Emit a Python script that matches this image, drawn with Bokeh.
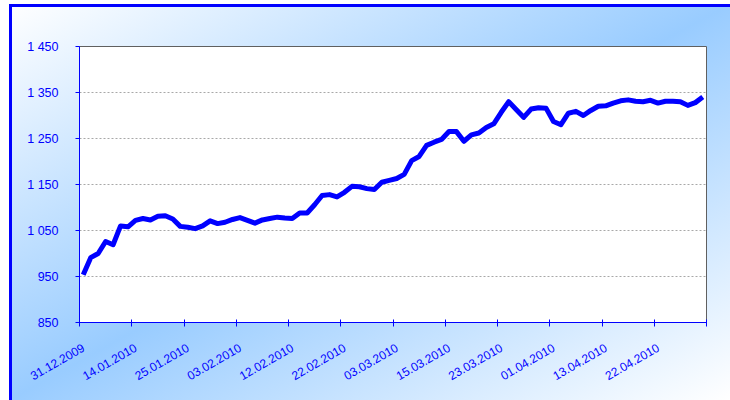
import math
from bokeh.plotting import figure
from bokeh.models import Range1d, FixedTicker
from bokeh.embed import file_html
from bokeh.resources import INLINE

# Index values per trading day (31.12.2009 ... end of April 2010)
values = [954, 991, 1000, 1026, 1019, 1060, 1058, 1072, 1076, 1073,
          1081, 1082, 1075, 1059, 1057, 1054, 1060, 1071, 1065, 1068,
          1074, 1078, 1072, 1066, 1073, 1076, 1079, 1077, 1076, 1088,
          1088, 1106, 1126, 1128, 1123, 1133, 1146, 1145, 1141, 1139,
          1155, 1159, 1163, 1172, 1202, 1211, 1235, 1242, 1248, 1265,
          1265, 1244, 1258, 1262, 1274, 1282, 1307, 1330, 1313, 1296,
          1314, 1317, 1316, 1287, 1280, 1305, 1309, 1300, 1311, 1320,
          1321, 1327, 1332, 1334, 1331, 1330, 1333, 1327, 1331, 1331,
          1330, 1322, 1328, 1340]

date_labels = ["31.12.2009", "14.01.2010", "25.01.2010", "03.02.2010",
               "12.02.2010", "22.02.2010", "03.03.2010", "15.03.2010",
               "23.03.2010", "01.04.2010", "13.04.2010", "22.04.2010"]
label_step = 7

y_ticks = [850, 950, 1050, 1150, 1250, 1350, 1450]

n = len(values)
idx = list(range(n))

p = figure(width=721, height=396, output_backend="svg", toolbar_location=None,
           x_range=Range1d(-0.5, n - 0.5), y_range=Range1d(850, 1450),
           min_border_left=70, min_border_top=42, min_border_right=24,
           min_border_bottom=78)

p.border_fill_color = None
p.background_fill_color = "white"
p.outline_line_color = "#606060"
p.outline_line_width = 1
p.styles = {
    "background-image": "linear-gradient(to bottom right, #ffffff 0%, #99ccff 50%, #ffffff 100%)",
    "box-shadow": "inset 3px 3px 0 0 #0000ff",
    "margin-top": "4px",
    "margin-left": "9px",
}

p.line(idx, values, line_width=5, line_color="#0000ff", line_join="round")

font = "Liberation Sans"

# x axis
xt = [label_step * k for k in range(len(date_labels))]
xminor = [label_step * k - 0.5 for k in range(len(date_labels) + 1)]
p.xaxis.ticker = FixedTicker(ticks=xt, minor_ticks=xminor)
p.xaxis.major_label_overrides = {t: lab for t, lab in zip(xt, date_labels)}
p.xaxis.major_label_orientation = math.pi / 6
p.xaxis.major_tick_out = 0
p.xaxis.major_tick_in = 0
p.xaxis.minor_tick_out = 4
p.xaxis.minor_tick_in = 3
p.xaxis.minor_tick_line_color = "#0000ff"
p.xaxis.axis_line_color = "#0000ff"
p.xaxis.major_label_text_color = "#0000ff"
p.xaxis.major_label_text_font = font
p.xaxis.major_label_text_font_size = "12px"
p.xaxis.major_label_standoff = 20

# y axis
p.yaxis.ticker = FixedTicker(ticks=y_ticks)
p.yaxis.major_label_overrides = {t: f"{t:,}".replace(",", " ") for t in y_ticks}
p.yaxis.minor_tick_line_color = None
p.yaxis.major_tick_out = 4
p.yaxis.major_tick_in = 0
p.yaxis.major_tick_line_color = "#0000ff"
p.yaxis.axis_line_color = "#0000ff"
p.yaxis.major_label_text_color = "#0000ff"
p.yaxis.major_label_text_font = font
p.yaxis.major_label_text_font_size = "12.5px"
p.yaxis.major_label_standoff = 17

p.xgrid.grid_line_color = None
p.ygrid.grid_line_color = "#a8a8a8"
p.ygrid.grid_line_dash = "2 2"
p.ygrid.grid_line_width = 1

open("out.html", "w").write(file_html(p, INLINE))
